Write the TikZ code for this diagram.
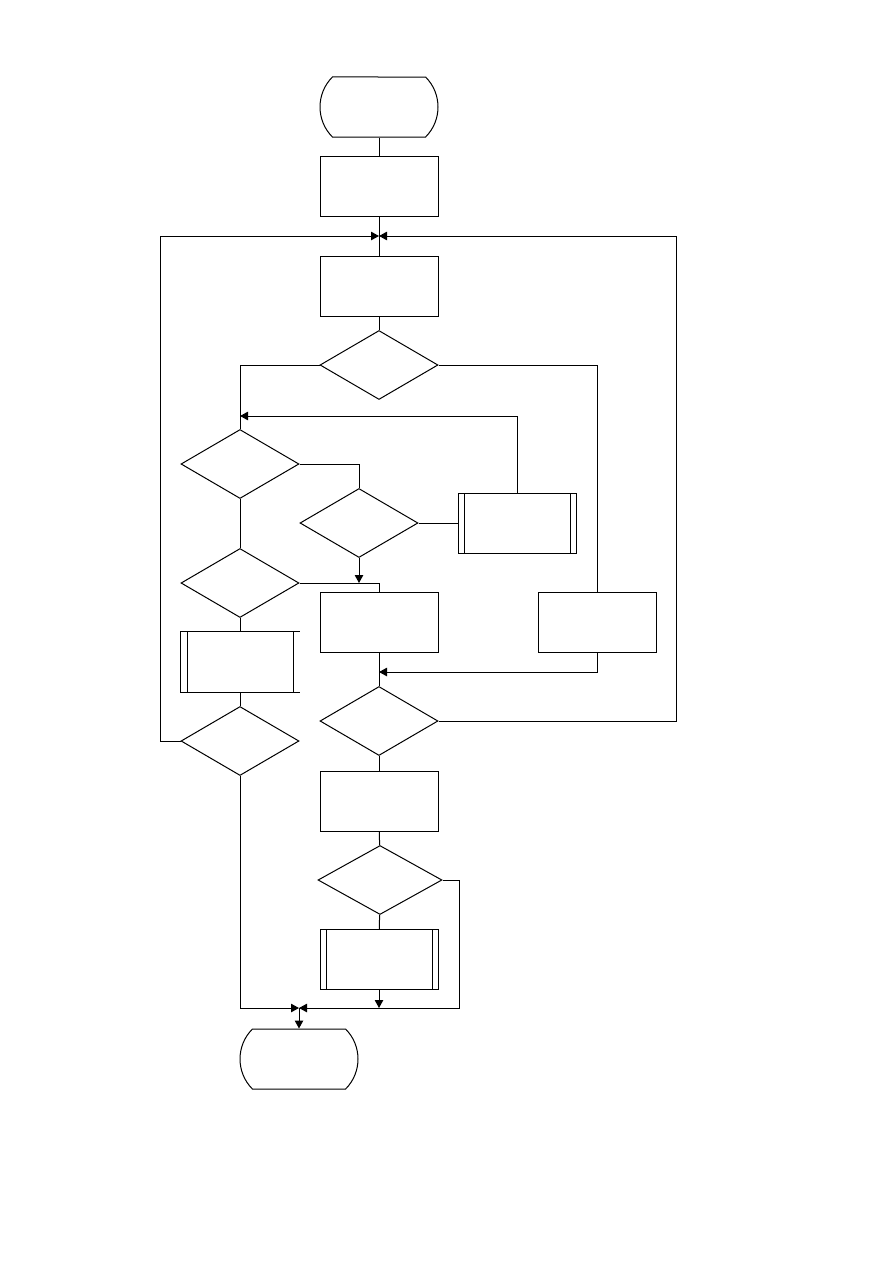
\documentclass[tikz,border=0pt]{standalone}
\usepackage{tikz}
\usetikzlibrary{arrows.meta,positioning,shapes.geometric,shapes.misc}

\tikzset{
  base/.style={draw,line width=1pt,inner sep=0pt},
  term/.style={base,rounded rectangle,rounded rectangle arc length=90,minimum width=118pt,minimum height=60pt},
  proc/.style={base,rectangle,minimum width=118pt,minimum height=60pt},
  bars/.style={path picture={
    \draw[line width=1pt] ([xshift=6pt]path picture bounding box.north west) -- ([xshift=6pt]path picture bounding box.south west)
      ([xshift=-6pt]path picture bounding box.north east) -- ([xshift=-6pt]path picture bounding box.south east);}},
  subproc/.style={proc,bars},
  subopen/.style={proc,draw=none,bars},
  decide/.style={base,diamond,minimum width=118pt,minimum height=69pt},
  flow/.style={line width=1pt},
}

\begin{document}
\begin{tikzpicture}[x=1pt,y=-1pt,>={Triangle[length=8pt,width=8.5pt]}]
  \useasboundingbox (0,0) rectangle (892,1263);
  % main column
  \node[term] (start) at (379,107) {};
  \node[proc] (init) at (379,186) {};
  \node[proc] (read) at (379,286) {};
  \node[decide] (q1) at (379,365) {};
  % inner loop
  \node[decide] (q2) at (240,464) {};
  \node[decide] (q3) at (359,523) {};
  \node[subproc] (sub1) at (517.5,523) {};
  \node[decide] (q4) at (240,583) {};
  \node[proc] (work) at (379,622.5) {};
  \node[proc] (alt) at (597,622.5) {};
  \node[subopen] (sub2) at (240,661.5) {};
  \node[decide] (q5) at (240,741) {};
  \node[decide] (q6) at (379,721) {};
  % tail
  \node[proc] (save) at (379,801) {};
  \node[decide,minimum width=124pt] (q7) at (380,880) {};
  \node[subproc] (sub3) at (379,959.5) {};
  \node[term] (stop) at (299,1059) {};
  \coordinate (top) at (379,236);
  \coordinate (back) at (240,416);
  \coordinate (join) at (379,672);
  \coordinate (bot) at (299,1008);

  \draw[flow] (sub2.north east) -- (sub2.north west) -- (sub2.south west) -- (sub2.south east);

  \draw[flow] (start) -- (init);
  \draw[flow] (init) -- (read);
  \draw[flow] (read) -- (q1);
  \draw[flow,->] (q5.west) -- ++(-20,0) |- (top);
  \draw[flow,->] (q6.east) -- ++(238,0) |- (top);
  \draw[flow] (q1.west) -| (q2.north);
  \draw[flow] (q1.east) -| (alt.north);
  \draw[flow] (q2.east) -| (q3.north);
  \draw[flow] (q3.east) -- (sub1.west);
  \draw[flow,->] (sub1.north) |- (back);
  \draw[flow,->] (q3.south) -- (q3.south |- q4.east);
  \draw[flow] (q4.east) -| (work.north);
  \draw[flow] (q2.south) -- (q4.north);
  \draw[flow] (q4.south) -- (sub2.north);
  \draw[flow] (sub2.south) -- (q5.north);
  \draw[flow] (work) -- (q6);
  \draw[flow,->] (alt.south) |- (join);
  \draw[flow] (q6) -- (save);
  \draw[flow] (save) -- (q7);
  \draw[flow] (q7) -- (sub3);
  \draw[flow,->] (sub3.south) -- (sub3.south |- bot);
  \draw[flow,->] (q7.east) -- ++(17,0) |- (bot);
  \draw[flow,->] (q5.south) |- (bot);
  \draw[flow,->] (bot) -- (stop);
\end{tikzpicture}
\end{document}
